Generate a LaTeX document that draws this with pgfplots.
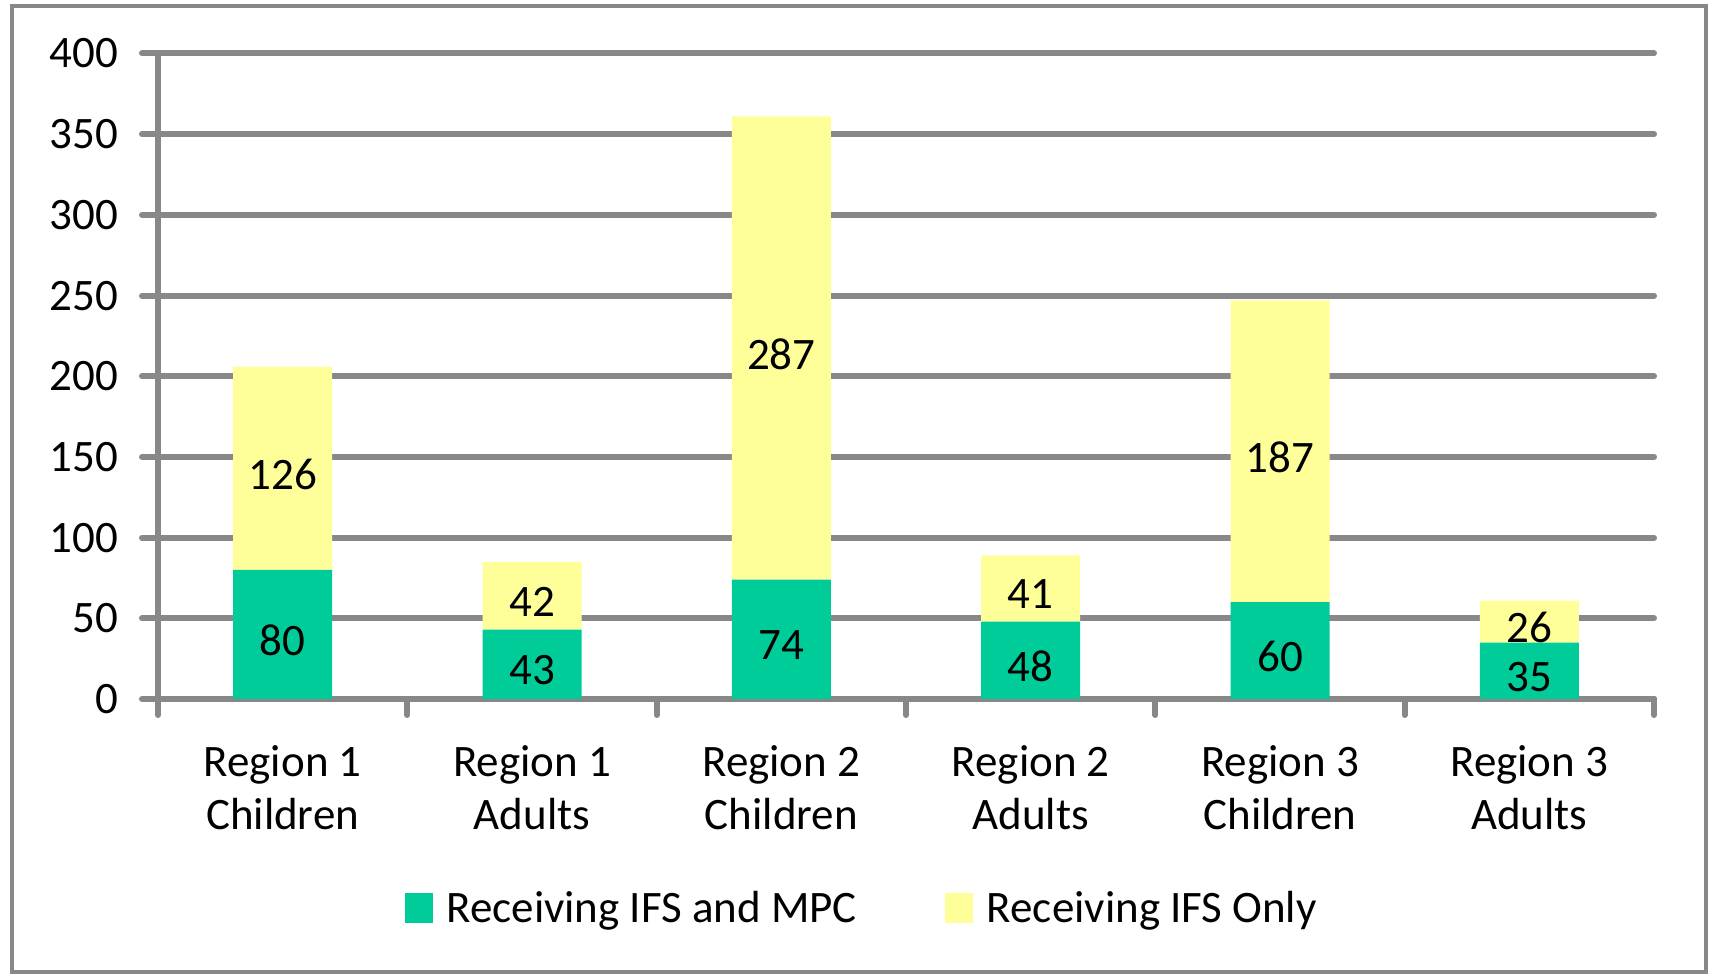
\documentclass[border=0pt]{standalone}
\usepackage{pgfplots}
\pgfplotsset{compat=1.18}
\usepackage{fontspec}
\setmainfont{Carlito}
\definecolor{gridgray}{HTML}{888888}
\definecolor{bargreen}{HTML}{00CC99}
\definecolor{baryellow}{HTML}{FFFF99}
\begin{document}
\begin{tikzpicture}[font=\fontsize{22.5}{26.5}\selectfont]
\useasboundingbox (0pt,0pt) rectangle (856pt,487pt);
\draw[gridgray, line width=2pt] (6pt,1pt) rectangle (853pt,484pt);
\begin{axis}[
  at={(79pt,137.5pt)}, anchor=south west,
  scale only axis, width=748pt, height=322.75pt,
  ybar stacked, bar width=49.5pt,
  xmin=-0.5, xmax=5.5, ymin=0, ymax=400,
  ytick={0,50,...,400},
  xtick={-0.5,0.5,1.5,2.5,3.5,4.5,5.5},
  x tick label as interval,
  xticklabels={{Region 1\\Children},{Region 1\\Adults},{Region 2\\Children},{Region 2\\Adults},{Region 3\\Children},{Region 3\\Adults}},
  xticklabel style={align=center, yshift=-11.8pt},
  yticklabel style={xshift=-8.5pt},
  /pgf/number format/assume math mode=true,
  axis lines*=left,
  axis line style={gridgray, line width=3pt, line cap=round},
  tick align=outside, major tick length=8pt,
  tick style={gridgray, line width=3pt, line cap=round},
  ymajorgrids, grid style={gridgray, line width=3pt, line cap=round},
  legend columns=2,
  legend style={draw=none, fill=none, at={(0.471,-0.324)}, anchor=center,
    font=\fontsize{22.5}{26.5}\selectfont,
    /tikz/every odd column/.append style={column sep=5pt},
    /tikz/every even column/.append style={column sep=42pt}},
  legend image code/.code={\fill[#1] (0pt,-7.5pt) rectangle (14pt,7.5pt);},
]
\addplot[fill=bargreen, draw=none] coordinates {(0,80) (1,43) (2,74) (3,48) (4,60) (5,35)};
\addplot[fill=baryellow, draw=none] coordinates {(0,126) (1,42) (2,287) (3,41) (4,187) (5,26)};
\legend{Receiving IFS and MPC, Receiving IFS Only}
\end{axis}
\begin{axis}[
  at={(79pt,137.5pt)}, anchor=south west,
  scale only axis, width=748pt, height=322.75pt,
  xmin=-0.5, xmax=5.5, ymin=0, ymax=400,
  hide axis,
  nodes near coords={\pgfplotspointmeta},
  point meta=explicit symbolic,
  every node near coord/.style={anchor=center, yshift=-3pt, text=black, font=\fontsize{22.5}{26.5}\selectfont},
]
\addplot[only marks, mark=none] table[meta=lab] {
x y lab
0 40 80
1 21.5 43
2 37 74
3 24 48
4 30 60
5 17.5 35
0 143 126
1 64 42
2 217.5 287
3 68.5 41
4 153.5 187
5 48 26
};
\end{axis}
\end{tikzpicture}
\end{document}
